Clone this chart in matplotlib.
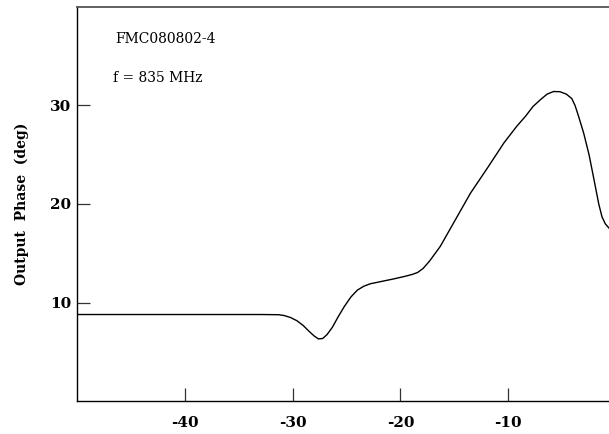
import matplotlib

matplotlib.use("Agg")
import matplotlib.pyplot as plt

# input power (dBm) vs output phase (deg)
power = [-50.0, -40.0, -33.0, -31.3, -30.8, -30.2, -29.6, -29.0, -28.5, -28.0,
         -27.6, -27.2, -26.8, -26.3, -25.8, -25.2, -24.6, -24.0, -23.4, -22.8,
         -21.7, -20.6, -19.6, -18.9, -18.4, -17.9, -17.3, -16.3, -14.9, -13.5,
         -11.9, -10.4, -9.2, -8.4, -7.7, -7.0, -6.4, -5.8, -5.2, -4.6,
         -4.1, -3.8, -3.5, -3.0, -2.5, -2.1, -1.6, -1.3, -1.0, -0.65]
phase = [8.78, 8.78, 8.78, 8.76, 8.68, 8.48, 8.15, 7.65, 7.1, 6.6,
         6.3, 6.35, 6.75, 7.5, 8.5, 9.6, 10.55, 11.25, 11.65, 11.9,
         12.15, 12.4, 12.65, 12.85, 13.05, 13.45, 14.2, 15.7, 18.4, 21.1,
         23.7, 26.2, 27.9, 28.9, 29.9, 30.6, 31.15, 31.42, 31.4, 31.15,
         30.7, 30.0, 29.0, 27.2, 25.0, 22.8, 20.0, 18.7, 18.0, 17.55]

x_ticks = [-40, -30, -20, -10]
y_ticks = [10, 20, 30]

plt.rcParams["font.family"] = ["DejaVu Serif"]

fig = plt.figure(figsize=(6.09, 4.34), dpi=100)
ax = fig.add_axes([77 / 609, 33 / 434, 532 / 609, 394 / 434])

ax.plot(power, phase, color="black", lw=1.0)

ax.set_xlim(-50, -0.65)
ax.set_ylim(0, 40)
ax.set_xticks(x_ticks)
ax.set_yticks(y_ticks)
ax.set_xticklabels([str(v) for v in x_ticks], fontweight="bold", fontsize=11)
ax.set_yticklabels([str(v) for v in y_ticks], fontweight="bold", fontsize=11)
ax.tick_params(direction="in", length=9.5, width=0.9, color="#333333")
ax.tick_params(axis="x", pad=11)
ax.tick_params(axis="y", pad=4)

ax.spines["right"].set_visible(False)
for side in ["left", "bottom"]:
    ax.spines[side].set_linewidth(1.0)
ax.spines["top"].set_linewidth(1.3)
ax.spines["top"].set_color("#555555")

ax.set_ylabel("Output  Phase  (deg)", fontweight="bold", fontsize=10, labelpad=15)

ax.text(0.072, 0.92, "FMC080802-4", transform=ax.transAxes, fontsize=10, va="center")
ax.text(0.068, 0.82, "f = 835 MHz", transform=ax.transAxes, fontsize=10, va="center")

fig.savefig("out.png", dpi=100)
